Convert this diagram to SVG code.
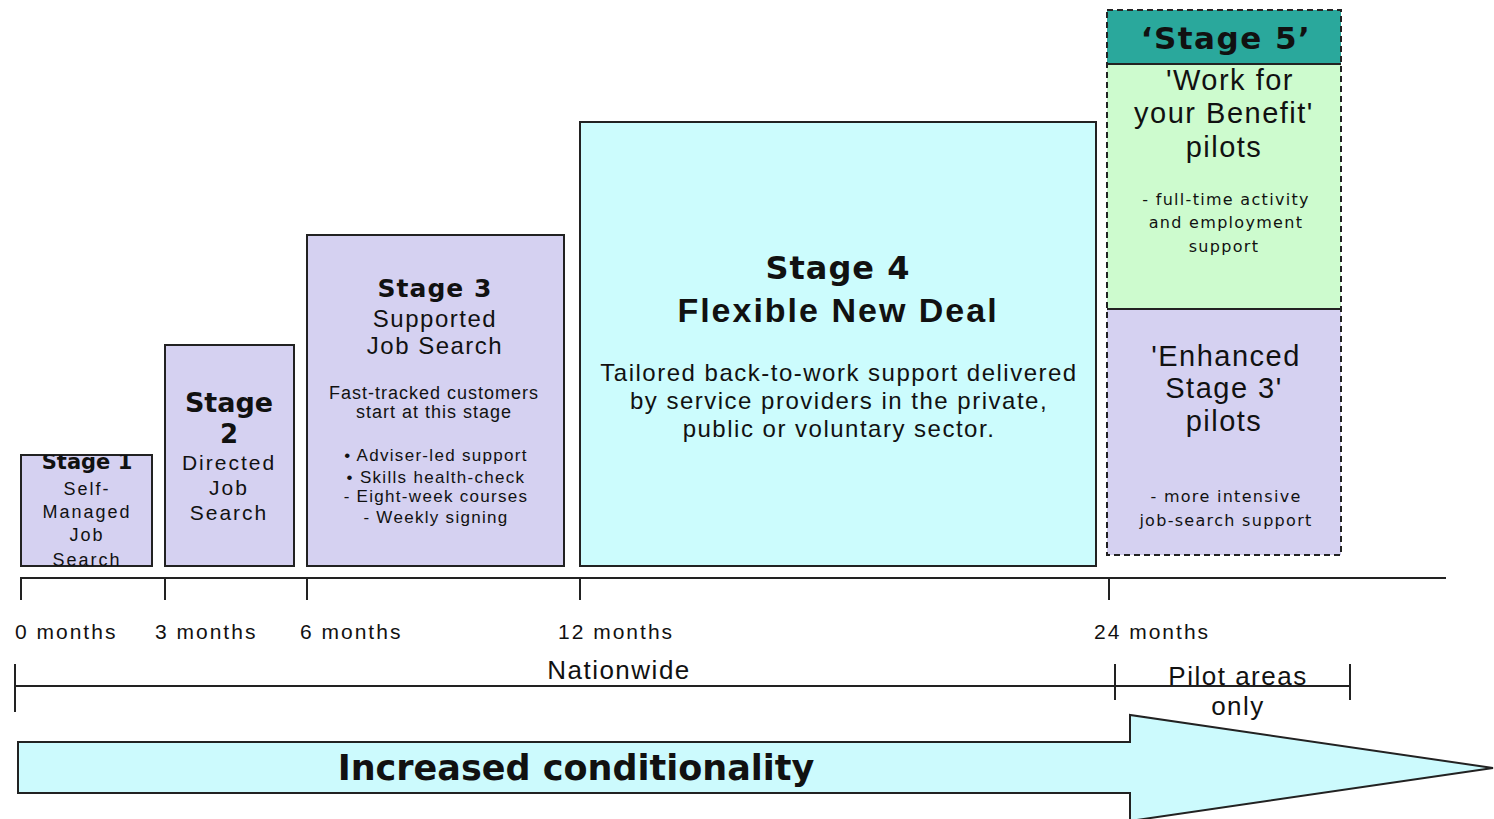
<svg xmlns="http://www.w3.org/2000/svg" width="1494" height="819" viewBox="0 0 1494 819">
<style>
.box{stroke:#222;stroke-width:2}
.lav{fill:#d5d1f1}
.cyan{fill:#ccfcfd}
.green{fill:#cdfbce}
.teal{fill:#2aa89c}
.dash{fill:none;stroke:#222;stroke-width:2;stroke-dasharray:6 4}
.t{font-family:"Liberation Sans",Arial,sans-serif;fill:#111;text-anchor:middle;dominant-baseline:central}
.b{font-family:"DejaVu Sans",Verdana,sans-serif;font-weight:bold;fill:#111;text-anchor:middle;dominant-baseline:central}
.v{font-family:"DejaVu Sans",Verdana,sans-serif;fill:#111;text-anchor:middle;dominant-baseline:central}
.m{font-family:"Liberation Sans",Arial,sans-serif;fill:#111;font-size:21px;letter-spacing:2px;dominant-baseline:central}
.line{stroke:#222;stroke-width:2;fill:none}
</style>
<defs>
<clipPath id="c1"><rect x="21" y="455" width="131" height="111"/></clipPath>
</defs>
<rect width="1494" height="819" fill="#fff"/>

<g id="stage1">
<rect class="box lav" x="21" y="455" width="131" height="111"/>
<g clip-path="url(#c1)">
<text class="b" x="87" y="462" font-size="21">Stage 1</text>
<text class="t" x="87" y="489" font-size="18" letter-spacing="2">Self-</text>
<text class="t" x="87" y="512" font-size="18" letter-spacing="2">Managed</text>
<text class="t" x="87" y="535" font-size="18" letter-spacing="2">Job</text>
<text class="t" x="87" y="560" font-size="18" letter-spacing="2">Search</text>
</g>
</g>

<g id="stage2">
<rect class="box lav" x="165" y="345" width="129" height="221"/>
<text class="b" x="229" y="402" font-size="27">Stage</text>
<text class="b" x="229" y="434" font-size="26">2</text>
<text class="t" x="229" y="462" font-size="21" letter-spacing="2">Directed</text>
<text class="t" x="229" y="487" font-size="21" letter-spacing="2">Job</text>
<text class="t" x="229" y="512" font-size="21" letter-spacing="2">Search</text>
</g>

<g id="stage3">
<rect class="box lav" x="307" y="235" width="257" height="331"/>
<text class="b" x="435" y="288" font-size="25" letter-spacing="1">Stage 3</text>
<text class="t" x="435" y="318" font-size="24" letter-spacing="1.5">Supported</text>
<text class="t" x="435" y="345" font-size="24" letter-spacing="1.5">Job Search</text>
<text class="t" x="434" y="393" font-size="18" letter-spacing="1">Fast-tracked customers</text>
<text class="t" x="434" y="412" font-size="18" letter-spacing="1">start at this stage</text>
<text class="t" x="436" y="455" font-size="17" letter-spacing="1.3">• Adviser-led support</text>
<text class="t" x="436" y="477" font-size="17" letter-spacing="1.3">• Skills health-check</text>
<text class="t" x="436" y="496" font-size="17" letter-spacing="1.3">- Eight-week courses</text>
<text class="t" x="436" y="517" font-size="17" letter-spacing="1.3">- Weekly signing</text>
</g>

<g id="stage4">
<rect class="box cyan" x="580" y="122" width="516" height="444"/>
<text class="b" x="838" y="268" font-size="32" letter-spacing="1">Stage 4</text>
<text class="t" x="838" y="310" font-size="34" font-weight="bold" letter-spacing="2">Flexible New Deal</text>
<text class="t" x="839" y="372" font-size="24" letter-spacing="1.5">Tailored back-to-work support delivered</text>
<text class="t" x="839" y="400" font-size="24" letter-spacing="1.5">by service providers in the private,</text>
<text class="t" x="839" y="428" font-size="24" letter-spacing="1.5">public or voluntary sector.</text>
</g>

<g id="stage5">
<rect class="teal" x="1107" y="10" width="234" height="54"/>
<rect class="green" x="1107" y="64" width="234" height="245"/>
<rect class="lav" x="1107" y="309" width="234" height="246"/>
<rect class="dash" x="1107" y="10" width="234" height="545"/>
<line class="line" x1="1107" y1="64" x2="1341" y2="64"/>
<line class="line" x1="1107" y1="309" x2="1341" y2="309"/>
<text class="b" x="1226" y="38" font-size="31" letter-spacing="1.5">‘Stage 5’</text>
<text class="t" x="1230" y="80" font-size="29" letter-spacing="1.5">'Work for</text>
<text class="t" x="1224" y="113" font-size="29" letter-spacing="1.5">your Benefit'</text>
<text class="t" x="1224" y="147" font-size="29" letter-spacing="1.5">pilots</text>
<text class="v" x="1226" y="199" font-size="16" letter-spacing="1.3">- full-time activity</text>
<text class="v" x="1226" y="222" font-size="16" letter-spacing="1.3">and employment</text>
<text class="v" x="1224" y="246" font-size="16" letter-spacing="1.3">support</text>
<text class="t" x="1226" y="356" font-size="29" letter-spacing="1.5">'Enhanced</text>
<text class="t" x="1224" y="388" font-size="29" letter-spacing="1.5">Stage 3'</text>
<text class="t" x="1224" y="421" font-size="29" letter-spacing="1.5">pilots</text>
<text class="v" x="1226" y="496" font-size="16" letter-spacing="1.3">- more intensive</text>
<text class="v" x="1226" y="520" font-size="16" letter-spacing="1.3">job-search support</text>
</g>

<g id="connectors">
<g id="timeline">
<line class="line" x1="21" y1="578" x2="1446" y2="578"/>
<line class="line" x1="21" y1="577" x2="21" y2="600"/>
<line class="line" x1="165" y1="577" x2="165" y2="600"/>
<line class="line" x1="307" y1="577" x2="307" y2="600"/>
<line class="line" x1="580" y1="577" x2="580" y2="600"/>
<line class="line" x1="1109" y1="577" x2="1109" y2="600"/>
</g>
<g id="coverage">
<line class="line" x1="15" y1="686" x2="1350" y2="686"/>
<line class="line" x1="15" y1="664" x2="15" y2="712"/>
<line class="line" x1="1115" y1="664" x2="1115" y2="700"/>
<line class="line" x1="1350" y1="664" x2="1350" y2="700"/>
</g>
</g>

<g id="labels">
<text class="m" x="15" y="631">0 months</text>
<text class="m" x="155" y="631">3 months</text>
<text class="m" x="300" y="631">6 months</text>
<text class="m" x="558" y="631">12 months</text>
<text class="m" x="1094" y="631">24 months</text>
<text class="t" x="619" y="670" font-size="26" letter-spacing="1.5">Nationwide</text>
<text class="t" x="1238" y="676" font-size="26" letter-spacing="1.5">Pilot areas</text>
<text class="t" x="1238" y="706" font-size="26" letter-spacing="1.5">only</text>
</g>

<g id="arrow">
<polygon points="18,742 1130,742 1130,715 1493,768 1130,821 1130,793 18,793" fill="#ccfafd" stroke="#222" stroke-width="2"/>
<text class="b" x="576" y="768" font-size="35">Increased conditionality</text>
</g>
</svg>
